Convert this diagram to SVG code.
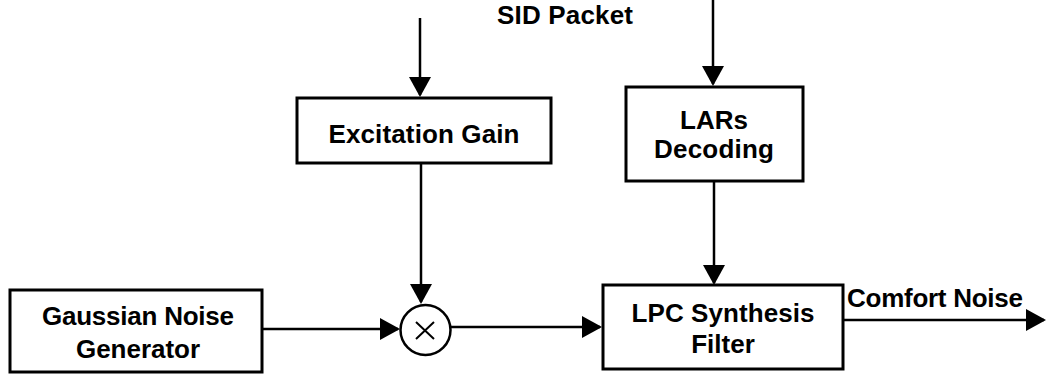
<svg xmlns="http://www.w3.org/2000/svg" width="1047" height="379" viewBox="0 0 1047 379">
  <style>
    .box { fill: #fff; stroke: #000; stroke-width: 3; }
    .wire { fill: none; stroke: #000; stroke-width: 2.5; marker-end: url(#head); }
    .lbl { font-family: "Liberation Sans", Arial, sans-serif; font-weight: bold; font-size: 26px; fill: #000; text-anchor: middle; }
  </style>
  <defs>
    <marker id="head" markerUnits="userSpaceOnUse" markerWidth="20" markerHeight="22" refX="18" refY="11" orient="auto">
      <path d="M0,0 L20,11 L0,22 z" fill="#000"/>
    </marker>
  </defs>
  <rect width="1047" height="379" fill="#fff"/>

  <g id="connectors">
    <line class="wire" x1="420" y1="18" x2="420" y2="95"/>
    <line class="wire" x1="713" y1="0" x2="713" y2="84"/>
    <line class="wire" x1="421" y1="163" x2="421" y2="302"/>
    <line class="wire" x1="714" y1="181" x2="714" y2="283"/>
    <line class="wire" x1="262" y1="329" x2="398" y2="329"/>
    <line class="wire" x1="451" y1="327" x2="600" y2="327"/>
    <line class="wire" x1="843" y1="320" x2="1044" y2="320"/>
  </g>

  <g id="sid-packet">
    <text class="lbl" x="565" y="24" textLength="136" lengthAdjust="spacing">SID Packet</text>
  </g>

  <g id="excitation-gain">
    <rect class="box" x="297" y="98" width="254" height="65"/>
    <text class="lbl" x="424" y="143" textLength="191" lengthAdjust="spacing">Excitation Gain</text>
  </g>

  <g id="lars-decoding">
    <rect class="box" x="626" y="87" width="177" height="94"/>
    <text class="lbl" x="714" y="129">LARs</text>
    <text class="lbl" x="714" y="158" textLength="120" lengthAdjust="spacing">Decoding</text>
  </g>

  <g id="gaussian-noise-generator">
    <rect class="box" x="10" y="290" width="252" height="82"/>
    <text class="lbl" x="138" y="325" textLength="192" lengthAdjust="spacing">Gaussian Noise</text>
    <text class="lbl" x="138" y="358" textLength="124" lengthAdjust="spacing">Generator</text>
  </g>

  <g id="multiplier">
    <circle cx="425.5" cy="330" r="25" fill="#fff" stroke="#000" stroke-width="2.5"/>
    <path d="M416,322 L434,339 M434,322 L416,339" stroke="#000" stroke-width="2" fill="none"/>
  </g>

  <g id="lpc-synthesis-filter">
    <rect class="box" x="603" y="285" width="240" height="84"/>
    <text class="lbl" x="723" y="322" textLength="183" lengthAdjust="spacing">LPC Synthesis</text>
    <text class="lbl" x="723" y="353">Filter</text>
  </g>

  <g id="comfort-noise">
    <text class="lbl" x="935" y="307" textLength="176" lengthAdjust="spacing">Comfort Noise</text>
  </g>
</svg>
